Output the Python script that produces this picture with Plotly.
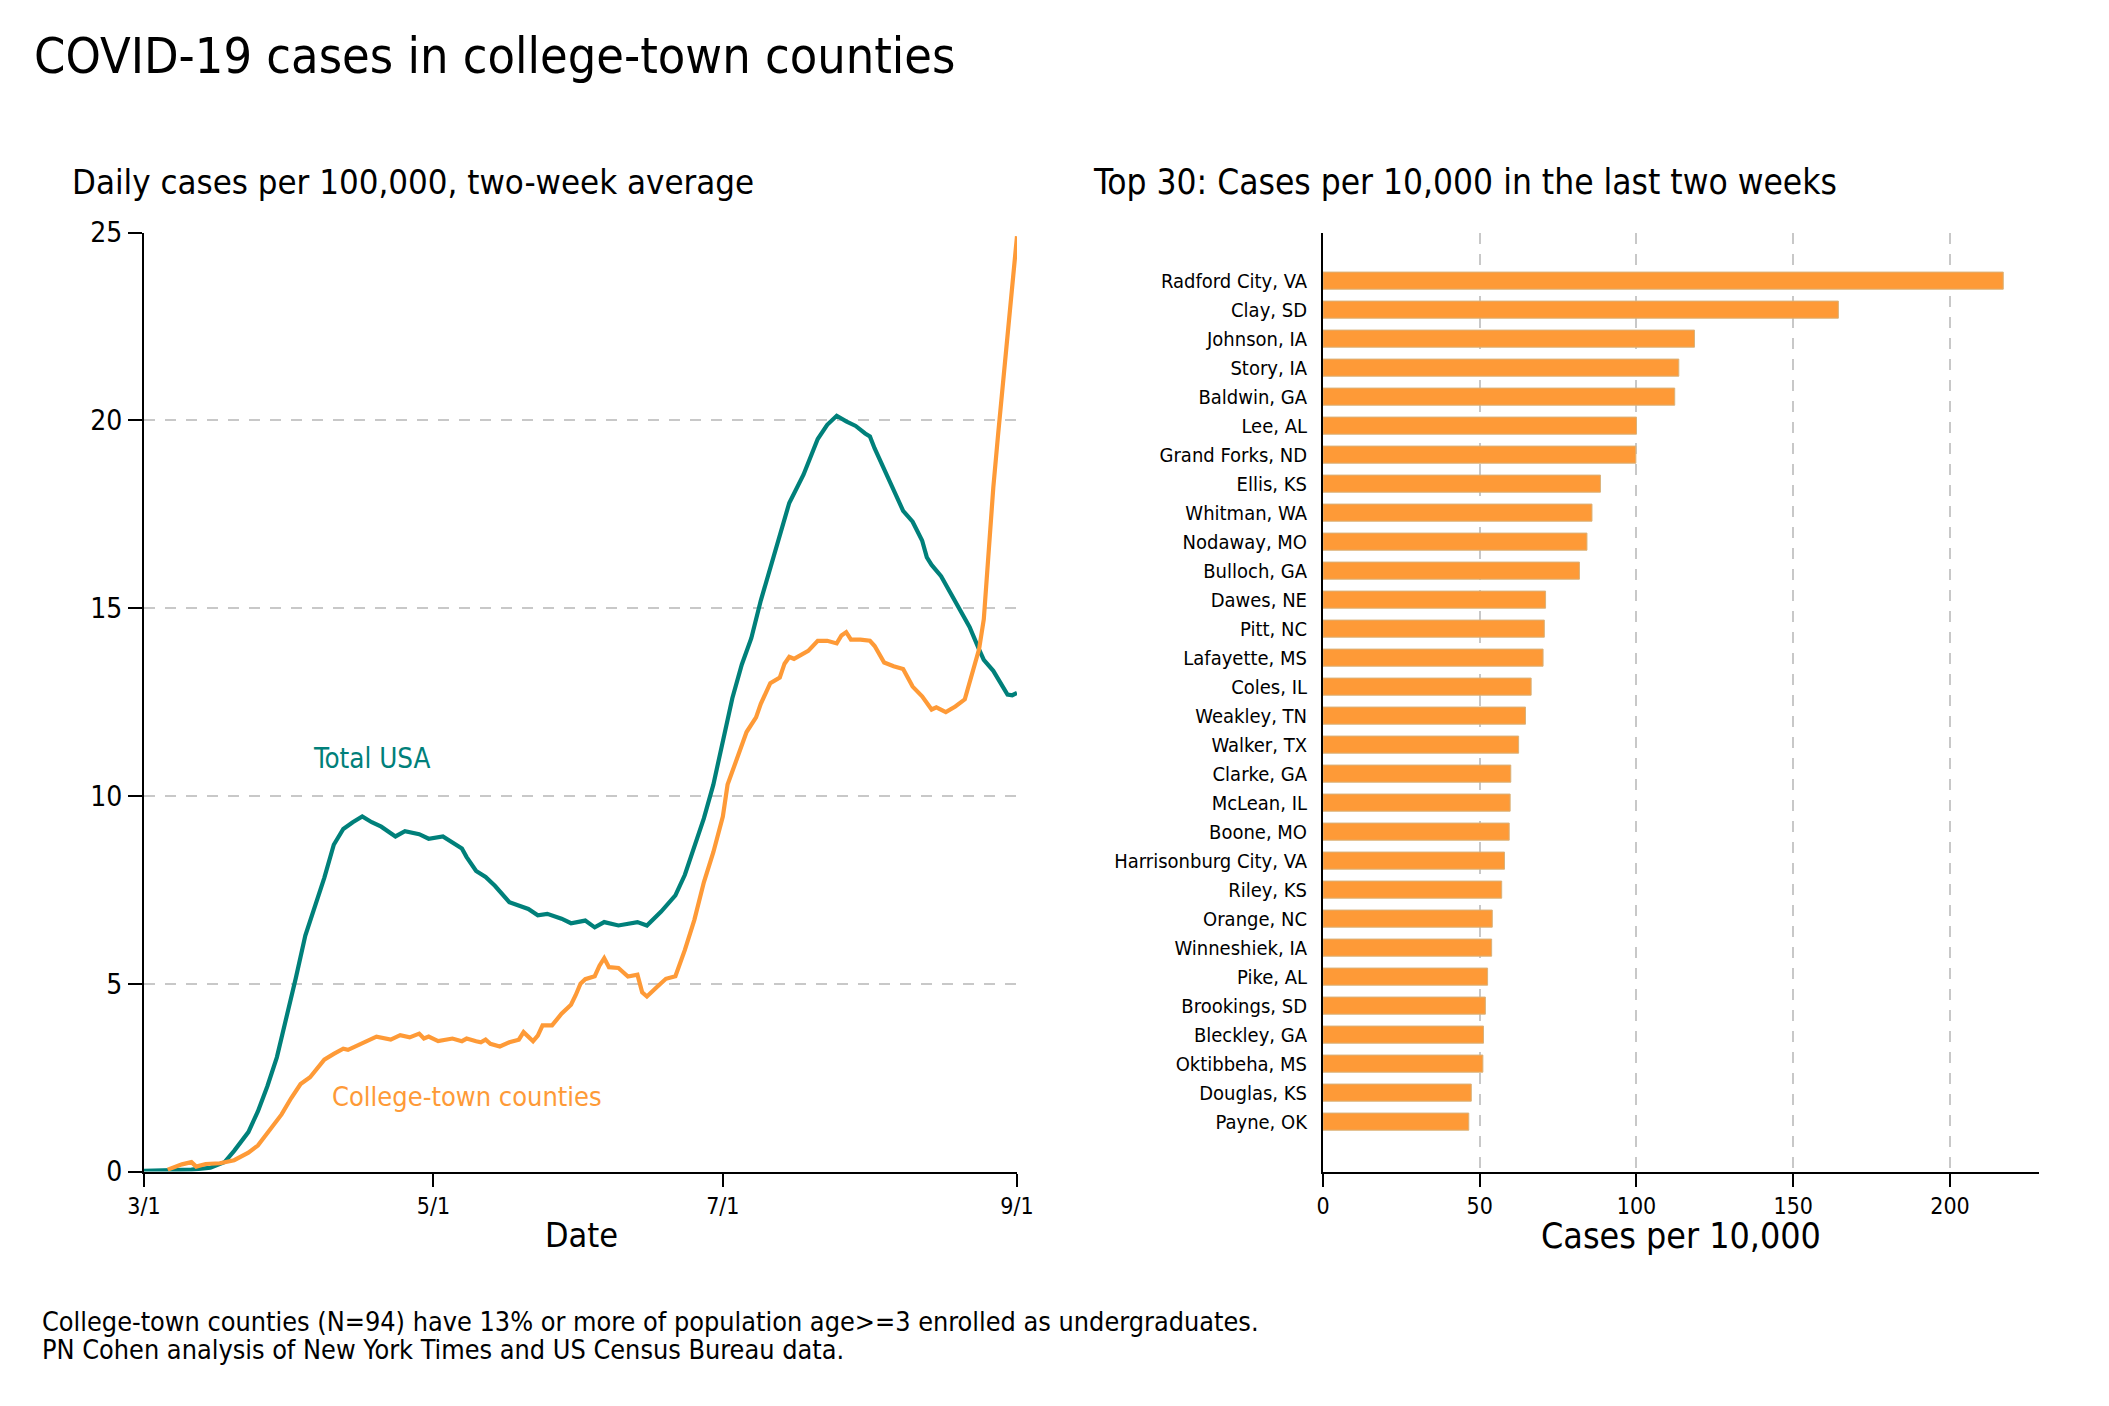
import plotly.graph_objects as go

FONT = "DejaVu Sans Condensed, Liberation Sans Narrow, Arial Narrow, sans-serif"
TEAL = "#00807a"
ORANGE = "#fe9a37"
GRID = "#c8c8c8"

# ---- Left panel: daily cases per 100,000 (two-week average) ----
usa_dates = [
    "2020-03-01", "2020-03-06", "2020-03-11", "2020-03-15", "2020-03-18", "2020-03-20",
    "2020-03-23", "2020-03-25", "2020-03-27", "2020-03-29", "2020-03-31", "2020-04-02",
    "2020-04-04", "2020-04-06", "2020-04-08", "2020-04-10", "2020-04-12", "2020-04-14",
    "2020-04-16", "2020-04-18", "2020-04-20", "2020-04-23", "2020-04-25", "2020-04-28",
    "2020-04-30", "2020-05-03", "2020-05-05", "2020-05-07", "2020-05-08", "2020-05-10",
    "2020-05-12", "2020-05-14", "2020-05-17", "2020-05-21", "2020-05-23", "2020-05-25",
    "2020-05-28", "2020-05-30", "2020-06-02", "2020-06-04", "2020-06-06", "2020-06-09",
    "2020-06-13", "2020-06-15", "2020-06-18", "2020-06-21", "2020-06-23", "2020-06-25",
    "2020-06-27", "2020-06-29", "2020-07-01", "2020-07-03", "2020-07-05", "2020-07-07",
    "2020-07-09", "2020-07-11", "2020-07-13", "2020-07-15", "2020-07-18", "2020-07-20",
    "2020-07-21", "2020-07-23", "2020-07-25", "2020-07-27", "2020-07-29", "2020-07-31",
    "2020-08-01", "2020-08-02", "2020-08-04", "2020-08-05", "2020-08-07", "2020-08-08",
    "2020-08-10", "2020-08-12", "2020-08-13", "2020-08-14", "2020-08-16", "2020-08-18",
    "2020-08-19", "2020-08-21", "2020-08-22", "2020-08-24", "2020-08-25", "2020-08-27",
    "2020-08-29", "2020-08-30", "2020-08-31", "2020-09-01",
]
usa_values = [
    0.02, 0.03, 0.05, 0.10, 0.25, 0.55,
    1.05, 1.60, 2.27, 3.04, 4.05, 5.15,
    6.28, 7.05, 7.82, 8.70, 9.12, 9.30,
    9.45, 9.30, 9.18, 8.92, 9.06, 8.98,
    8.86, 8.92, 8.75, 8.60, 8.37, 8.00,
    7.84, 7.60, 7.17, 6.99, 6.82, 6.86,
    6.73, 6.61, 6.68, 6.50, 6.64, 6.55,
    6.64, 6.55, 6.92, 7.35, 7.90, 8.65,
    9.40, 10.30, 11.40, 12.60, 13.50, 14.20,
    15.20, 16.05, 16.90, 17.80, 18.55, 19.15,
    19.50, 19.88, 20.12, 19.97, 19.85, 19.65,
    19.57, 19.25, 18.70, 18.40, 17.85, 17.59,
    17.30, 16.80, 16.35, 16.15, 15.85, 15.40,
    15.18, 14.75, 14.50, 13.90, 13.62, 13.33,
    12.90, 12.70, 12.68, 12.74,
]

college_dates = [
    "2020-03-06", "2020-03-09", "2020-03-11", "2020-03-12", "2020-03-14", "2020-03-17",
    "2020-03-20", "2020-03-23", "2020-03-25", "2020-03-28", "2020-03-30", "2020-04-01",
    "2020-04-03", "2020-04-05", "2020-04-08", "2020-04-10", "2020-04-12", "2020-04-13",
    "2020-04-16", "2020-04-19", "2020-04-22", "2020-04-24", "2020-04-26", "2020-04-28",
    "2020-04-29", "2020-04-30", "2020-05-02", "2020-05-05", "2020-05-07", "2020-05-08",
    "2020-05-10", "2020-05-11", "2020-05-12", "2020-05-13", "2020-05-15", "2020-05-17",
    "2020-05-19", "2020-05-20", "2020-05-22", "2020-05-23", "2020-05-24", "2020-05-26",
    "2020-05-28", "2020-05-30", "2020-05-31", "2020-06-01", "2020-06-02", "2020-06-04",
    "2020-06-05", "2020-06-06", "2020-06-07", "2020-06-09", "2020-06-11", "2020-06-13",
    "2020-06-14", "2020-06-15", "2020-06-17", "2020-06-19", "2020-06-21", "2020-06-23",
    "2020-06-25", "2020-06-27", "2020-06-29", "2020-07-01", "2020-07-02", "2020-07-04",
    "2020-07-06", "2020-07-08", "2020-07-09", "2020-07-11", "2020-07-13", "2020-07-14",
    "2020-07-15", "2020-07-16", "2020-07-18", "2020-07-19", "2020-07-21", "2020-07-23",
    "2020-07-25", "2020-07-26", "2020-07-27", "2020-07-28", "2020-07-30", "2020-08-01",
    "2020-08-02", "2020-08-04", "2020-08-06", "2020-08-08", "2020-08-10", "2020-08-12",
    "2020-08-14", "2020-08-15", "2020-08-17", "2020-08-19", "2020-08-21", "2020-08-22",
    "2020-08-23", "2020-08-24", "2020-08-25", "2020-08-26", "2020-08-27", "2020-08-28",
    "2020-08-29", "2020-08-30", "2020-08-31", "2020-09-01",
]
college_values = [
    0.05, 0.19, 0.25, 0.13, 0.20, 0.22,
    0.30, 0.50, 0.69, 1.20, 1.52, 1.95,
    2.33, 2.51, 2.98, 3.13, 3.27, 3.24,
    3.40, 3.59, 3.51, 3.63, 3.57, 3.67,
    3.54, 3.59, 3.47, 3.54, 3.47, 3.54,
    3.47, 3.44, 3.51, 3.40, 3.33, 3.44,
    3.51, 3.71, 3.47, 3.62, 3.89, 3.89,
    4.20, 4.44, 4.70, 5.00, 5.12, 5.20,
    5.48, 5.68, 5.44, 5.42, 5.19, 5.24,
    4.77, 4.66, 4.90, 5.13, 5.20, 5.90,
    6.70, 7.70, 8.50, 9.45, 10.30, 11.00,
    11.70, 12.09, 12.45, 13.00, 13.15, 13.52,
    13.70, 13.65, 13.79, 13.86, 14.13, 14.13,
    14.06, 14.27, 14.36, 14.16, 14.16, 14.13,
    13.99, 13.55, 13.45, 13.38, 12.91, 12.65,
    12.30, 12.36, 12.23, 12.38, 12.57, 13.00,
    13.40, 13.90, 14.70, 16.60, 18.20, 19.60,
    20.90, 22.30, 23.60, 24.90,
]

date_tickvals = ["2020-03-01", "2020-05-01", "2020-07-01", "2020-09-01"]
date_ticktext = ["3/1", "5/1", "7/1", "9/1"]
left_y_ticks = [0, 5, 10, 15, 20, 25]

# ---- Right panel: top 30 counties, cases per 10,000 in last two weeks ----
counties = [
    "Radford City, VA", "Clay, SD", "Johnson, IA", "Story, IA", "Baldwin, GA",
    "Lee, AL", "Grand Forks, ND", "Ellis, KS", "Whitman, WA", "Nodaway, MO",
    "Bulloch, GA", "Dawes, NE", "Pitt, NC", "Lafayette, MS", "Coles, IL",
    "Weakley, TN", "Walker, TX", "Clarke, GA", "McLean, IL", "Boone, MO",
    "Harrisonburg City, VA", "Riley, KS", "Orange, NC", "Winneshiek, IA", "Pike, AL",
    "Brookings, SD", "Bleckley, GA", "Oktibbeha, MS", "Douglas, KS", "Payne, OK",
]
county_cases = [
    217.0, 164.4, 118.5, 113.5, 112.2,
    100.0, 99.8, 88.5, 85.8, 84.2,
    81.8, 71.0, 70.6, 70.2, 66.4,
    64.6, 62.4, 59.9, 59.7, 59.4,
    57.9, 57.0, 54.0, 53.8, 52.5,
    51.8, 51.2, 51.0, 47.3, 46.5,
]
right_x_ticks = [0, 50, 100, 150, 200]

# The page body keeps an 8px margin, so the figure is drawn 8px in and made 8px smaller.
OFF = 8
W, H = 2109 - OFF, 1406 - OFF
def px_x(v):
    return (v - OFF) / W
def px_y(v):
    return 1 - (v - OFF) / H

fig = go.Figure()
fig.add_trace(go.Scatter(x=usa_dates, y=usa_values, mode="lines",
                         line=dict(color=TEAL, width=4.2), xaxis="x", yaxis="y",
                         name="Total USA", showlegend=False))
fig.add_trace(go.Scatter(x=college_dates, y=college_values, mode="lines",
                         line=dict(color=ORANGE, width=4.2), xaxis="x", yaxis="y",
                         name="College-town counties", showlegend=False))
fig.add_trace(go.Bar(x=county_cases, y=counties, orientation="h", width=0.59,
                     marker=dict(color=ORANGE, line=dict(color="#d9b27a", width=1)),
                     xaxis="x2", yaxis="y2", showlegend=False))

ydom = [px_y(1171.5), px_y(232.5)]
axis_common = dict(showline=True, linecolor="black", linewidth=2, ticks="outside",
                   tickcolor="black", tickwidth=2, zeroline=False, automargin=False)

fig.update_layout(
    width=W, height=H,
    margin=dict(l=0, r=0, t=0, b=0, autoexpand=False),
    paper_bgcolor="white", plot_bgcolor="white",
    font=dict(family=FONT, color="black"),
    showlegend=False,
    xaxis=dict(domain=[px_x(144), px_x(1017)], anchor="y", type="date",
               range=["2020-03-01", "2020-09-01"], tickvals=date_tickvals,
               ticktext=date_ticktext, ticklen=13, showgrid=False,
               tickfont=dict(size=23), **axis_common),
    yaxis=dict(domain=ydom, anchor="x", range=[0, 25], tickvals=left_y_ticks,
               ticklen=14, showgrid=True, gridcolor=GRID, gridwidth=1.5,
               griddash="11px,10px", tickfont=dict(size=28), **axis_common),
    xaxis2=dict(domain=[px_x(1323), px_x(2039)], anchor="y2", range=[0, 228.4],
                tickvals=right_x_ticks, ticklen=13, showgrid=True, gridcolor=GRID,
                gridwidth=1.5, griddash="11px,10px", tickfont=dict(size=23),
                **axis_common),
    yaxis2=dict(domain=ydom, anchor="x2", type="category", range=[30.72, -1.66],
                showline=True, linecolor="black", linewidth=2, ticks="",
                showgrid=False, zeroline=False, ticklabelstandoff=10, automargin=False,
                tickfont=dict(size=20)),
)

annotations = [
    dict(text="COVID-19 cases in college-town counties", x=px_x(32), y=px_y(56),
         xanchor="left", yanchor="middle", font=dict(size=50)),
    dict(text="Daily cases per 100,000, two-week average", x=px_x(70), y=px_y(182),
         xanchor="left", yanchor="middle", font=dict(size=34.5)),
    dict(text="Top 30: Cases per 10,000 in the last two weeks", x=px_x(1091), y=px_y(182),
         xanchor="left", yanchor="middle", font=dict(size=35)),
    dict(text="Date", x=px_x(581), y=px_y(1235), xanchor="center", yanchor="middle",
         font=dict(size=34)),
    dict(text="Cases per 10,000", x=px_x(1681), y=px_y(1235), xanchor="center",
         yanchor="middle", font=dict(size=35.5)),
    dict(text="College-town counties (N=94) have 13% or more of population age>=3 enrolled as undergraduates.",
         x=px_x(40), y=px_y(1321), xanchor="left", yanchor="middle", font=dict(size=26.8)),
    dict(text="PN Cohen analysis of New York Times and US Census Bureau data.",
         x=px_x(40), y=px_y(1349), xanchor="left", yanchor="middle", font=dict(size=26.8)),
]
for a in annotations:
    a.update(xref="paper", yref="paper", showarrow=False)

annotations.append(dict(text="Total USA", x="2020-04-18", y=11.0, xref="x", yref="y",
                        showarrow=False, xanchor="center", yanchor="middle",
                        font=dict(size=27.5, color=TEAL)))
annotations.append(dict(text="College-town counties", x="2020-05-08", y=2.0, xref="x",
                        yref="y", showarrow=False, xanchor="center", yanchor="middle",
                        font=dict(size=27, color=ORANGE)))
fig.update_layout(annotations=annotations)

fig.write_html("out.html")
